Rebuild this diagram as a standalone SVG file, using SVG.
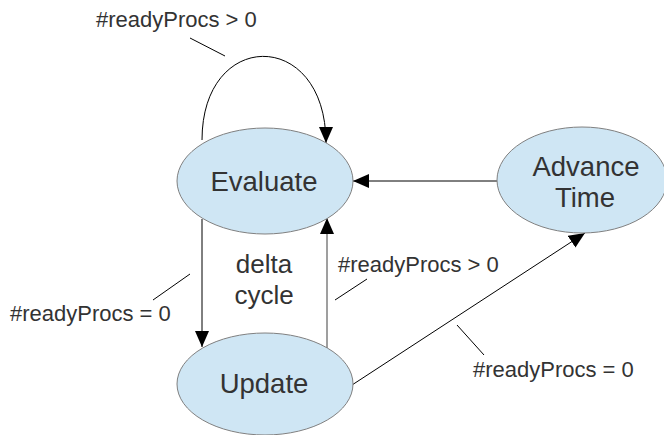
<svg xmlns="http://www.w3.org/2000/svg" width="664" height="435" viewBox="0 0 664 435">
  <style>
    .node { fill: #cfe6f4; stroke: #808080; stroke-width: 1; }
    .ntext { font-family: "Liberation Sans", Arial, sans-serif; font-size: 27.5px; fill: #333333; text-anchor: middle; }
    .label { font-family: "Liberation Sans", Arial, sans-serif; font-size: 22px; fill: #333333; }
    .edge { fill: none; stroke: #000000; stroke-width: 1; }
    .edge-gray { fill: none; stroke: #7f7f7f; stroke-width: 1.5; }
    .leader { fill: none; stroke: #000000; stroke-width: 1; }
  </style>
  <defs>
    <marker id="arrow" markerUnits="userSpaceOnUse" markerWidth="17" markerHeight="15" refX="16" refY="7" orient="auto">
      <path d="M0,0 L16,7 L0,14 Z" fill="#000000"/>
    </marker>
  </defs>
  <rect width="664" height="435" fill="#ffffff"/>

  <g id="connectors">
    <path class="edge" d="M202,140 C202,28 326,28 326,143" marker-end="url(#arrow)"/>
    <path class="edge" d="M202,219 L202,347" marker-end="url(#arrow)"/>
    <path class="edge-gray" d="M327,348 L327,218" marker-end="url(#arrow)"/>
    <path class="edge" d="M497,181 L353,181" marker-end="url(#arrow)"/>
    <path class="edge" d="M352,385 L585,233" marker-end="url(#arrow)"/>
    <path class="leader" d="M190,38 L225,56"/>
    <path class="leader" d="M153,300 L190,274"/>
    <path class="leader" d="M335,300 L367,279"/>
    <path class="leader" d="M457,325 L484,355"/>
  </g>

  <g id="evaluate">
    <ellipse class="node" cx="265" cy="181" rx="88" ry="53"/>
    <text class="ntext" x="264" y="191">Evaluate</text>
  </g>
  <g id="update">
    <ellipse class="node" cx="265" cy="384" rx="88" ry="51"/>
    <text class="ntext" x="264" y="393">Update</text>
  </g>
  <g id="advance-time">
    <ellipse class="node" cx="582" cy="180" rx="85" ry="53"/>
    <text class="ntext" x="586" y="176">Advance</text>
    <text class="ntext" x="585" y="207">Time</text>
  </g>

  <g id="labels">
    <text class="label" x="96" y="27">#readyProcs &gt; 0</text>
    <text class="label" x="10" y="321">#readyProcs = 0</text>
    <text class="label" x="338" y="272">#readyProcs &gt; 0</text>
    <text class="label" x="473" y="377">#readyProcs = 0</text>
    <text class="ntext" x="264" y="273" style="font-size:26px">delta</text>
    <text class="ntext" x="264" y="304" style="font-size:26px">cycle</text>
  </g>
</svg>
